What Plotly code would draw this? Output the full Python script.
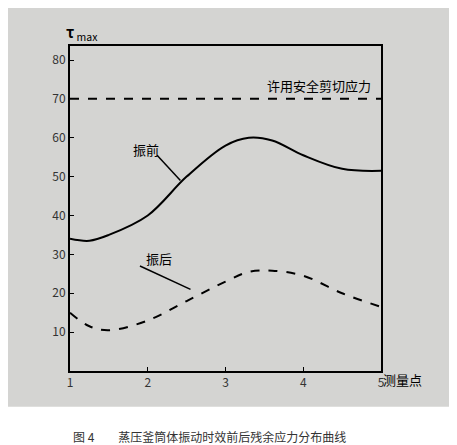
import plotly.graph_objects as go

pts = [1, 1.25, 1.5, 2, 2.5, 3, 3.3, 3.6, 4, 4.5, 5]
before = [34, 33.5, 35, 40, 50, 58, 60, 59.3, 55.5, 52, 51.5]
after = [15, 11.5, 10.5, 13, 18, 23, 25.5, 25.8, 24.5, 20, 16.5]
allow_x = [1, 5]
allow_y = [70, 70]
yticks = [10, 20, 30, 40, 50, 60, 70, 80]
xticks = [1, 2, 3, 4, 5]

bg = "#d4d4d2"
font = "Noto Sans CJK SC"

fig = go.Figure()
fig.add_trace(go.Scatter(x=pts, y=before, mode="lines", line=dict(color="black", width=2, shape="spline")))
fig.add_trace(go.Scatter(x=pts, y=after, mode="lines", line=dict(color="black", width=2, shape="spline", dash="dash")))
fig.add_trace(go.Scatter(x=allow_x, y=allow_y, mode="lines", line=dict(color="black", width=2, dash="dash")))

# grey scan background behind the plot
fig.add_shape(type="rect", xref="paper", yref="paper", x0=-0.2, x1=1.3, y0=-0.11, y1=1.12,
              fillcolor=bg, line_width=0, layer="below")

# leader lines
fig.add_shape(type="line", x0=2.12, y0=55.5, x1=2.42, y1=49, line=dict(color="black", width=1.5))
fig.add_shape(type="line", x0=1.9, y0=27, x1=2.55, y1=21, line=dict(color="black", width=1.5))

ann = dict(showarrow=False, font=dict(family=font, size=13, color="black"))
fig.add_annotation(x=1.98, y=57, text="振前", **ann)
fig.add_annotation(x=2.15, y=29, text="振后", **ann)
fig.add_annotation(x=4.2, y=73.5, text="许用安全剪切应力", **ann)
fig.add_annotation(xref="paper", yref="paper", x=-0.02, y=1.0, xanchor="left", yanchor="bottom",
                   text="<b>τ</b><sub> max</sub>", showarrow=False, font=dict(family=font, size=15, color="black"))
fig.add_annotation(xref="paper", yref="paper", x=1.0, y=0.01, xanchor="left", yanchor="top",
                   text="测量点", showarrow=False, font=dict(family=font, size=13, color="black"))
fig.add_annotation(xref="paper", yref="paper", x=0.45, y=-0.2, yanchor="middle",
                   text="图 4　　蒸压釜筒体振动时效前后残余应力分布曲线", showarrow=False,
                   font=dict(family=font, size=12, color="#333"))

fig.update_layout(
    width=457, height=445, showlegend=False,
    margin=dict(l=62, r=84, t=38, b=82),
    paper_bgcolor="white", plot_bgcolor=bg,
    font=dict(family=font, size=12, color="#333"),
)
fig.update_xaxes(range=[1, 5], tickvals=xticks, showgrid=False, zeroline=False,
                 showline=True, linecolor="black", linewidth=2, mirror=True,
                 ticks="inside", ticklen=4, tickcolor="black")
fig.update_yaxes(range=[0, 83.6], tickvals=yticks, showgrid=False, zeroline=False,
                 showline=True, linecolor="black", linewidth=2, mirror=True,
                 ticks="inside", ticklen=4, tickcolor="black")

fig.write_html("out.html")
